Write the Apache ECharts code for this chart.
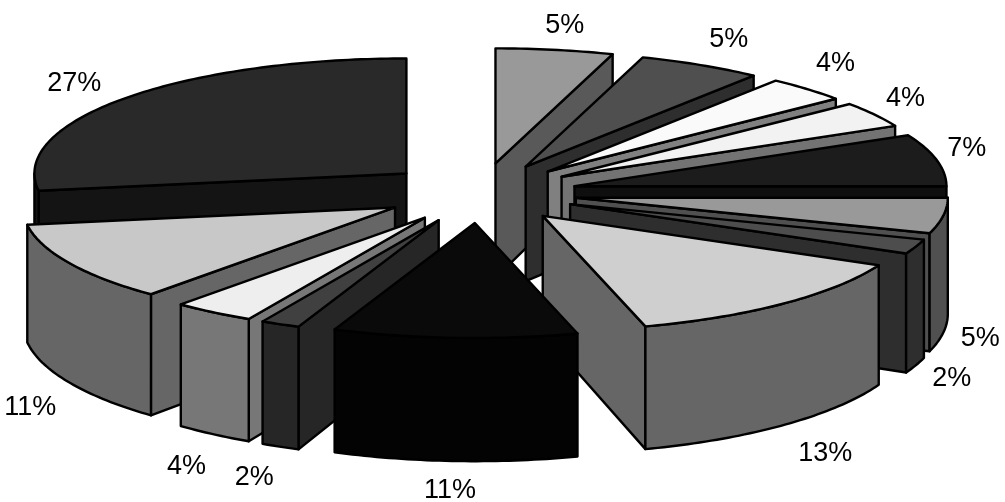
<!DOCTYPE html>
<html><head><meta charset="utf-8">
<style>html,body{margin:0;padding:0;background:#fff}#c{width:1005px;height:502px}</style>
<script src="https://cdn.jsdelivr.net/npm/echarts@6/dist/echarts.min.js"></script>
</head><body><div id="c"></div>
<script>
// data: slices clockwise from 12 o'clock, percentages (labels show them rounded)
const shares = [5.1,5.4,3.6,3.6,7.3,5,2.06,13.49,10.6,1.7,3.54,11.2,27.41];
// style
const topColors  = ['#999999','#4f4f4f','#fafafa','#f2f2f2','#1c1c1c','#999999','#4d4d4d','#cfcfcf','#0a0a0a','#404040','#eeeeee','#c8c8c8','#292929'];
const sideColors = ['#595959','#2e2e2e','#808080','#737373','#0f0f0f','#505050','#2e2e2e','#666666','#030303','#262626','#777777','#666666','#141414'];
// label nudges from the rim midpoint of each slice
const labelDx = [10,28,28,31,30,37,36,42,-5,-26,-27,-39,-50];
const labelDy = [-24,-26,-26,-16,-11,123,132,150,153,153,154,145,-15];

const CX=480, CY=193, RX=372, RY=115, EX=97, EY=30;
const D2R=Math.PI/180;
const total=shares.reduce((a,b)=>a+b,0);
const starts=[]; let acc=0;
shares.forEach(v=>{starts.push(acc/total*360); acc+=v;});
const mids=shares.map((v,i)=>starts[i]+v/total*180);
const drawOrder=shares.map((_,i)=>i).sort((a,b)=>Math.cos(mids[b]*D2R)-Math.cos(mids[a]*D2R));

function depth(y){ return 116+(y-CY)*0.05; }
function project(i,r,ang){
  const m=mids[i]*D2R,a=ang*D2R;
  return [CX+EX*Math.sin(m)+RX*r*Math.sin(a), CY-EY*Math.cos(m)-RY*r*Math.cos(a)];
}
function down(p){ return [p[0],p[1]+depth(p[1])]; }

function renderSlice(params,api){
  const i=api.value(0);
  const a0=starts[i], a1=a0+shares[i]/total*360;
  const apex=project(i,0,0);
  const rim=[]; const n=Math.max(4,Math.ceil(a1-a0));
  for(let k=0;k<=n;k++) rim.push(project(i,1,a0+(a1-a0)*k/n));
  const line={stroke:'#000',lineWidth:2.4,lineJoin:'round'};
  const kids=[];
  const poly=(pts,fill)=>kids.push({type:'polygon',shape:{points:pts},style:Object.assign({fill:fill},line)});
  const side=sideColors[i];
  if(Math.sin(a0*D2R)<0) poly([apex,rim[0],down(rim[0]),down(apex)],side);
  if(Math.sin(a1*D2R)>0) poly([apex,rim[n],down(rim[n]),down(apex)],side);
  const front=[];
  for(let k=0;k<=n;k++){
    const a=a0+(a1-a0)*k/n;
    if(a>=90&&a<=270) front.push(project(i,1,a));
  }
  if(a0<90&&a1>90) front.unshift(project(i,1,90));
  if(a0<270&&a1>270) front.push(project(i,1,270));
  if(front.length>1) poly(front.concat(front.slice().reverse().map(down)),side);
  poly([apex].concat(rim),topColors[i]);
  const lm=project(i,1,mids[i]);
  kids.push({type:'text',style:{x:lm[0]+labelDx[i],y:lm[1]+labelDy[i],text:Math.round(shares[i])+'%',
    font:'27px "Liberation Sans", Arial, sans-serif',fill:'#000',align:'center',verticalAlign:'middle'}});
  return {type:'group',children:kids};
}

const chart=echarts.init(document.getElementById('c'),null,{renderer:'canvas'});
chart.setOption({
  animation:false,
  backgroundColor:'#fff',
  series:[{type:'custom',coordinateSystem:'none',silent:true,
    data:drawOrder.map(i=>[i]),
    renderItem:renderSlice}]
});
</script></body></html>
